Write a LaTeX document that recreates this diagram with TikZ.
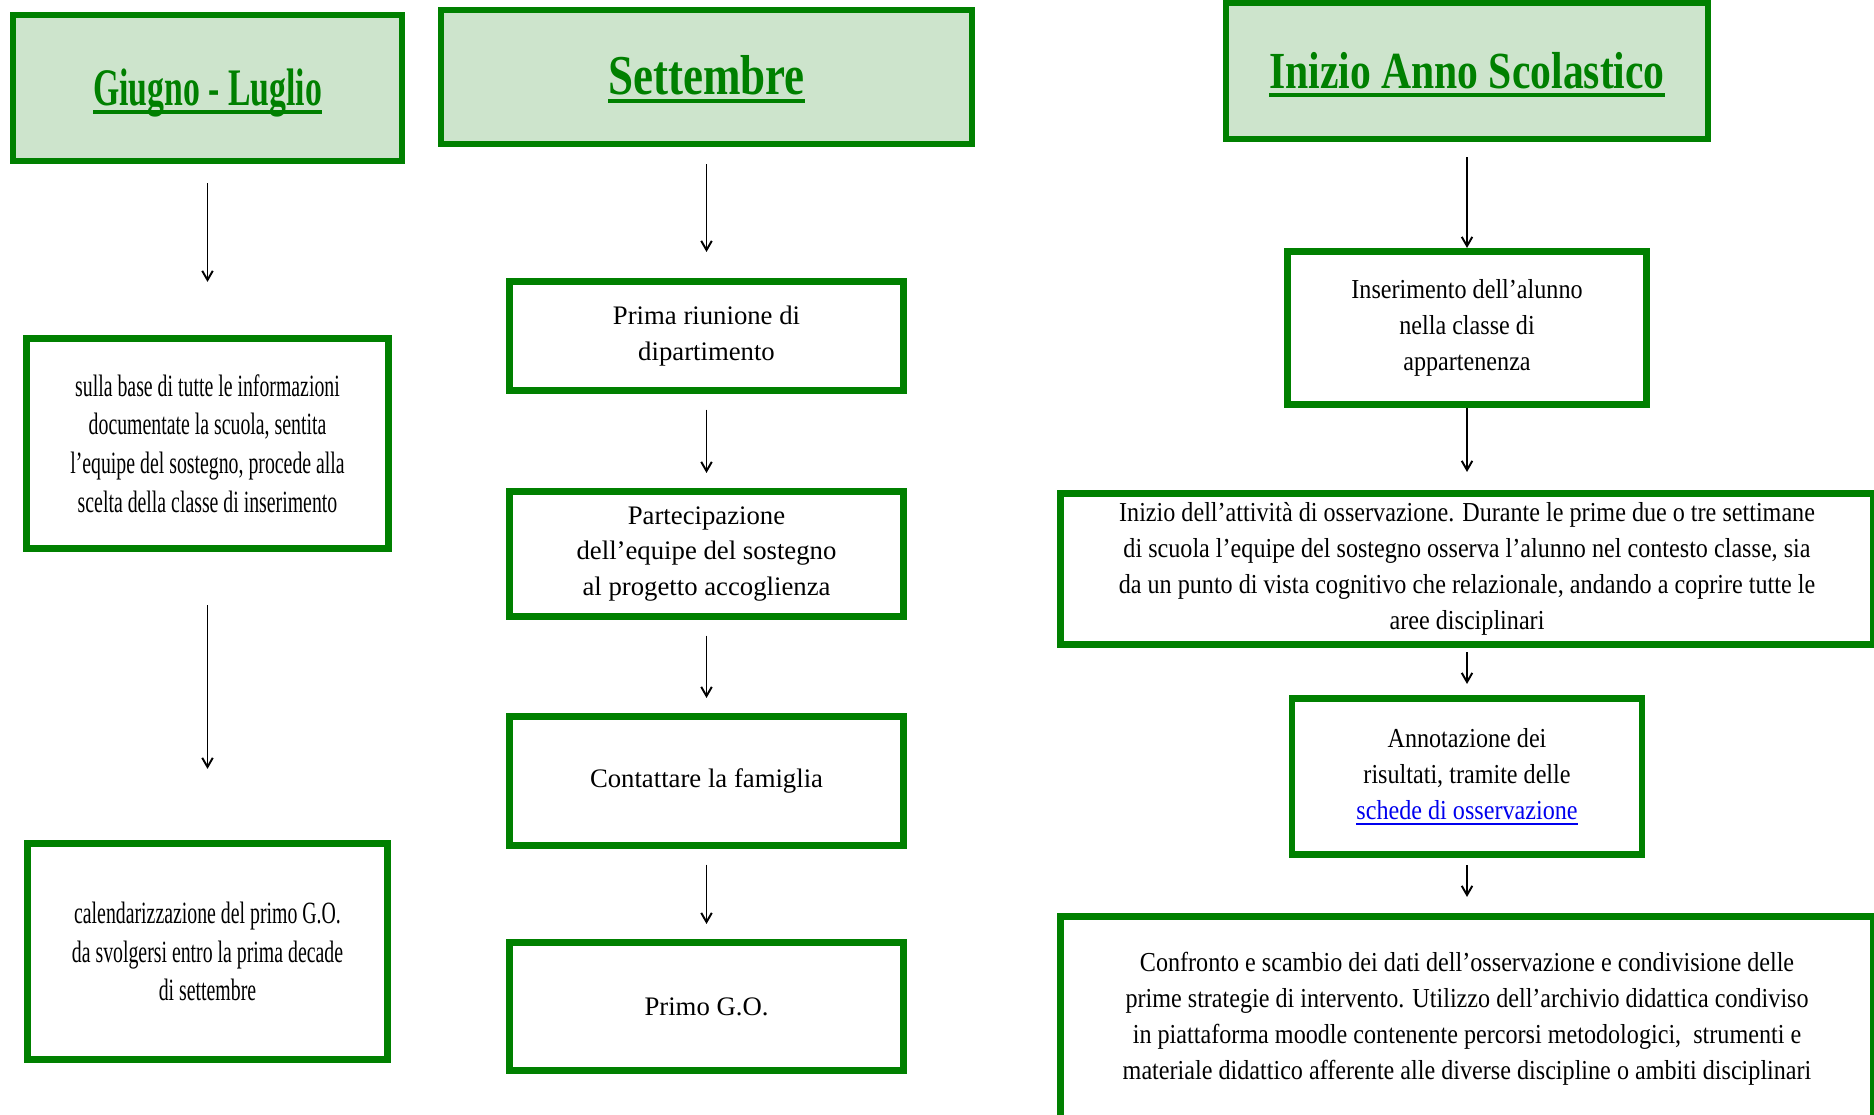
\documentclass[tikz,border=0pt]{standalone}
\usepackage{fontspec}
\setmainfont{Liberation Serif}
\newfontfamily\narrowfont{Liberation Serif}[FakeStretch=0.64]
\newfontfamily\headfont{Liberation Serif}[FakeStretch=0.8]
\newfontfamily\rightfont{Liberation Serif}[FakeStretch=0.88]
\usetikzlibrary{arrows.meta}
\definecolor{BoxGreen}{RGB}{0,128,0}
\definecolor{HeadFill}{RGB}{205,228,204}
\definecolor{LinkBlue}{RGB}{0,0,238}
\newsavebox{\ulinebox}
\newcommand{\headtext}[1]{\sbox{\ulinebox}{#1}\rlap{\rule[-2.25pt]{\wd\ulinebox}{1.1pt}}\usebox{\ulinebox}}
\newcommand{\linktext}[1]{{\color{LinkBlue}\sbox{\ulinebox}{#1}\rlap{\rule[-1.5pt]{\wd\ulinebox}{0.55pt}}\usebox{\ulinebox}}}

\begin{document}
\begin{tikzpicture}[
  x=0.01cm, y=-0.01cm,
HeadBox/.style={draw=BoxGreen, fill=HeadFill, line width=1.7pt, text=BoxGreen,
                inner sep=0pt, outer sep=0pt, align=center,
                text height=13.5pt, text depth=3.3pt,
                font=\headfont\bfseries\fontsize{15}{18}\selectfont},
StepBox/.style={draw=BoxGreen, line width=1.9pt, inner sep=0pt, outer sep=0pt, align=center},
LeftText/.style={font=\narrowfont\fontsize{8.8}{11}\selectfont},
MidText/.style={font=\fontsize{7.6}{10}\selectfont},
RightText/.style={font=\rightfont\fontsize{7.8}{10.2}\selectfont},
Arr/.style={-{Straight Barb[length=2.6pt,width=3pt]}, line width=0.55pt},
  ]
\useasboundingbox (0,0) rectangle (1874,1114);
% Giugno - Luglio
\node [HeadBox, minimum width=3.88cm, minimum height=1.45cm,
       font=\narrowfont\bfseries\fontsize{15}{18}\selectfont] (gl) at (207.5,88) {\headtext{Giugno - Luglio}};
\node [StepBox, LeftText, minimum width=3.62cm, minimum height=2.10cm] (l1) at (207.5,443.5)
  {sulla base di tutte le informazioni\\ documentate la scuola, sentita\\ l’equipe del sostegno, procede alla\\ scelta della classe di inserimento};
\node [StepBox, LeftText, minimum width=3.60cm, minimum height=2.16cm] (l2) at (207.5,951.5)
  {calendarizzazione del primo G.O.\\ da svolgersi entro la prima decade\\ di settembre};
% Settembre
\node [HeadBox, minimum width=5.30cm, minimum height=1.33cm,
       font=\headfont\bfseries\fontsize{16}{19}\selectfont] (hm) at (706.5,77) {\headtext{Settembre}};
\node [StepBox, MidText, minimum width=3.94cm, minimum height=1.09cm] (m1) at (706.5,336)
  {Prima riunione di\\ dipartimento};
\node [StepBox, MidText, minimum width=3.94cm, minimum height=1.25cm] (m2) at (706.5,554)
  {Partecipazione\\ dell’equipe del sostegno\\ al progetto accoglienza};
\node [StepBox, MidText, minimum width=3.94cm, minimum height=1.29cm] (m3) at (706.5,781)
  {Contattare la famiglia};
\node [StepBox, MidText, minimum width=3.94cm, minimum height=1.28cm] (m4) at (706.5,1006.5)
  {Primo G.O.};
% Inizio Anno Scolastico
\node [HeadBox, minimum width=4.81cm, minimum height=1.35cm,
       font=\headfont\bfseries\fontsize{14.8}{18}\selectfont] (hr) at (1467,71) {\headtext{Inizio Anno Scolastico}};
\node [StepBox, RightText, minimum width=3.59cm, minimum height=1.53cm] (r1) at (1467,328)
  {Inserimento dell’alunno\\ nella classe di\\ appartenenza};
\node [StepBox, RightText, minimum width=8.12cm, minimum height=1.51cm] (r2) at (1467,569)
  {Inizio dell’attività di osservazione. Durante le prime due o tre settimane\\
   di scuola l’equipe del sostegno osserva l’alunno nel contesto classe, sia\\
   da un punto di vista cognitivo che relazionale, andando a coprire tutte le\\
   aree disciplinari};
\node [StepBox, RightText, minimum width=3.50cm, minimum height=1.56cm] (r3) at (1467,776.5)
  {Annotazione dei\\ risultati, tramite delle\\ \linktext{schede di osservazione}};
\node [StepBox, RightText, minimum width=8.12cm, minimum height=2.05cm] (r4) at (1467,1019)
  {Confronto e scambio dei dati dell’osservazione e condivisione delle\\
   prime strategie di intervento. Utilizzo dell’archivio didattica condiviso\\
   in piattaforma moodle contenente percorsi metodologici,\ \ strumenti e\\
   materiale didattico afferente alle diverse discipline o ambiti disciplinari};

\draw[Arr, shorten <=2.25mm, shorten >=5.65mm] (gl.south) -- (l1.north);
\draw[Arr, shorten <=5.65mm, shorten >=7.45mm] (l1.south) -- (l2.north);
\draw[Arr, shorten <=2.05mm, shorten >=2.95mm] (hm.south) -- (m1.north);
\foreach \a/\b in {m1/m2, m2/m3, m3/m4}
  \draw[Arr, shorten <=1.9mm, shorten >=1.85mm] (\a.south) -- (\b.north);
\draw[Arr, shorten <=1.85mm, shorten >=0.35mm] (hr.south) -- (r1.north);
\draw[Arr, shorten <=0.35mm, shorten >=2.15mm] (r1.south) -- (r2.north);
\draw[Arr, shorten <=0.75mm, shorten >=1.45mm] (r2.south) -- (r3.north);
\draw[Arr, shorten <=1.05mm, shorten >=1.95mm] (r3.south) -- (r4.north);
\end{tikzpicture}
\end{document}
